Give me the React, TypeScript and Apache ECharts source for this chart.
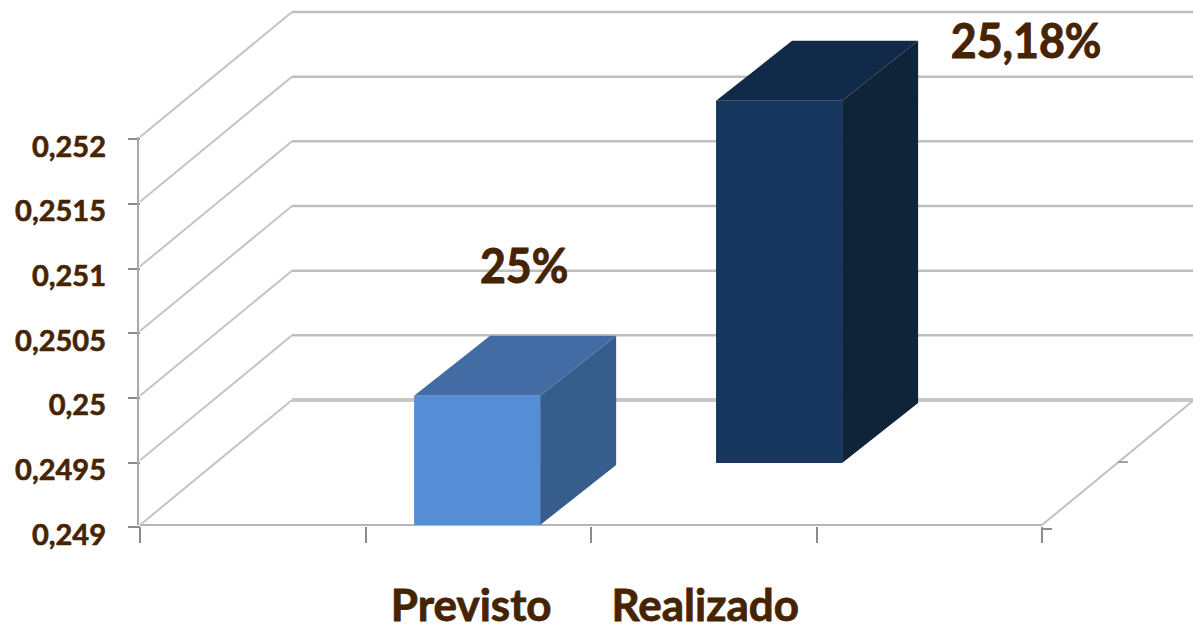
import React, { useEffect, useRef } from "react";
import * as echarts from "echarts";

const categories = ["", "Previsto", "Realizado", ""];
const yMin = 0.249;
const yMax = 0.252;
const yStep = 0.0005;
const yTicks = [0.249, 0.2495, 0.25, 0.2505, 0.251, 0.2515, 0.252];
const barCenters = [1.495, 2.834];
const barBases = [0.249, 0.24948];
const barTops = [0.25, 0.25228];
const barLabels = ["25%", "25,18%"];

const FONT = "Lato, 'Noto Sans', sans-serif";
const TEXT = "#462402";
const WALL = { dx: 152, dy: -125 };
const BAR_DEPTH = { dx: 76, dy: -60 };
const SHIFT = -2;
const BAR_WIDTH = 0.559;
const BAR_COLORS = [
  { front: "#558ed5", top: "#426ca3", side: "#375d8c" },
  { front: "#17375e", top: "#122a49", side: "#0f2439" },
];
const LABEL_OFFSETS = [
  [47, -131],
  [247, -61],
];

function wallsItem(params: any, api: any) {
  const v = api.value(1);
  const [x0, y] = api.coord([0, v]);
  const [x1] = api.coord([4, v]);
  const yy = y + SHIFT;
  const isFloor = params.dataIndex === 0;
  const children: any[] = [
    {
      type: "polyline",
      shape: { points: [[x0, yy], [x0 + WALL.dx, yy + WALL.dy]] },
      style: { stroke: "#c4c4c4", lineWidth: 2, fill: "none" },
    },
    {
      type: "line",
      shape: { x1: x0 + WALL.dx, y1: yy + WALL.dy, x2: x1 + WALL.dx, y2: yy + WALL.dy },
      style: { stroke: isFloor ? "#c8c8c8" : "#bfbfbf", lineWidth: isFloor ? 4 : 2.5 },
    },
  ];
  if (isFloor) {
    const [, yTop] = api.coord([0, yMax]);
    children.push(
      { type: "line", shape: { x1: x0, y1: yy, x2: x1, y2: yy }, style: { stroke: "#b5b5b5", lineWidth: 2 } },
      { type: "line", shape: { x1: x1, y1: yy, x2: x1 + WALL.dx, y2: yy + WALL.dy }, style: { stroke: "#c0c0c0", lineWidth: 2 } },
      { type: "line", shape: { x1: x0 - 2, y1: yTop + SHIFT, x2: x0 - 2, y2: yy }, style: { stroke: "#a9a9a9", lineWidth: 2 } },
      { type: "line", shape: { x1: x1, y1: y + 2, x2: x1 + 10, y2: y + 2 }, style: { stroke: "#8c8c8c", lineWidth: 2 } },
      { type: "line", shape: { x1: x1 + 76, y1: yy - 63, x2: x1 + 86, y2: yy - 63 }, style: { stroke: "#a0a0a0", lineWidth: 2 } }
    );
  }
  return { type: "group", children };
}

function barItem(params: any, api: any) {
  const i = params.dataIndex;
  const c = api.value(0);
  const [xl, yt0] = api.coord([c - BAR_WIDTH / 2, api.value(2)]);
  const [xr, yb0] = api.coord([c + BAR_WIDTH / 2, api.value(1)]);
  const yt = yt0 + SHIFT;
  const yb = yb0 + SHIFT;
  const { dx, dy } = BAR_DEPTH;
  const col = BAR_COLORS[i];
  return {
    type: "group",
    children: [
      {
        type: "polygon",
        shape: { points: [[xr, yt], [xr + dx, yt + dy], [xr + dx, yb + dy], [xr, yb]] },
        style: { fill: col.side },
      },
      {
        type: "polygon",
        shape: { points: [[xl, yt], [xl + dx, yt + dy], [xr + dx, yt + dy], [xr, yt]] },
        style: { fill: col.top },
      },
      { type: "rect", shape: { x: xl, y: yt, width: xr - xl, height: yb - yt }, style: { fill: col.front } },
      {
        type: "text",
        x: (xl + xr) / 2 + LABEL_OFFSETS[i][0],
        y: yt + LABEL_OFFSETS[i][1],
        scaleX: 0.93,
        style: {
          text: barLabels[i],
          x: 0,
          y: 0,
          fill: TEXT,
          font: `bold 48px ${FONT}`,
          align: "center",
          verticalAlign: "middle",
          stroke: TEXT,
          lineWidth: 1,
        },
      },
    ],
  };
}

export default function App() {
  const ref = useRef<HTMLDivElement>(null);
  useEffect(() => {
    const chart = echarts.init(ref.current!, undefined, { renderer: "svg" });
    chart.setOption({
      animation: false,
      backgroundColor: "#ffffff",
      grid: { left: 140, right: 151, top: 139, bottom: 104, outerBoundsMode: "none" },
      xAxis: [
        {
          type: "category",
          data: categories.map((value) => ({
            value,
            textStyle: { padding: value === "Previsto" ? [0, 14, 0, 0] : value === "Realizado" ? [0, 0, 0, 3] : 0 },
          })),
          axisLine: { show: false },
          axisTick: { show: true, length: 16, lineStyle: { color: "#8c8c8c", width: 2 } },
          axisLabel: {
            interval: 0,
            margin: 59,
            color: TEXT,
            fontFamily: FONT,
            fontWeight: "bold",
            fontSize: 44,
            lineHeight: 36,
            textBorderColor: TEXT,
            textBorderWidth: 0.8,
          },
        },
        { type: "value", min: 0, max: 4, show: false },
      ],
      yAxis: {
        type: "value",
        min: yMin,
        max: yMax,
        interval: yStep,
        splitLine: { show: false },
        axisLine: { show: false },
        axisTick: { show: true, length: 12, lineStyle: { color: "#8c8c8c", width: 2 } },
        axisLabel: {
          margin: 34,
          formatter: (v: number) => `{a|${String(+v.toFixed(4)).replace(".", ",")}}`,
          rich: {
            a: {
              color: TEXT,
              fontFamily: FONT,
              fontWeight: "bold",
              fontSize: 29,
              padding: [12, 0, 0, 0],
              textBorderColor: TEXT,
              textBorderWidth: 0.6,
            },
          },
        },
      },
      series: [
        {
          type: "custom",
          xAxisIndex: 1,
          silent: true,
          renderItem: wallsItem,
          data: yTicks.map((v) => [0, v]),
          z: 1,
        },
        {
          type: "custom",
          xAxisIndex: 1,
          silent: true,
          renderItem: barItem,
          data: barCenters.map((c, i) => [c, barBases[i], barTops[i]]),
          z: 2,
        },
      ],
    });
    return () => chart.dispose();
  }, []);
  return <div ref={ref} style={{ position: "fixed", left: 0, top: 0, width: 1193, height: 631 }} />;
}
